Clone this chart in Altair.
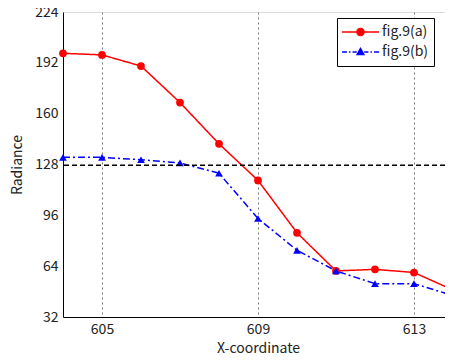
import altair as alt
import pandas as pd

x_coord = [604, 605, 606, 607, 608, 609, 610, 611, 612, 613, 614]
fig9a = [198, 197, 190, 167, 141, 118, 85, 61, 62, 60, 49]
fig9b = [132.5, 132.5, 131, 129, 122.5, 94, 74, 61, 53, 53, 45.5]
threshold = [127.5]
series = ["fig.9(a)", "fig.9(b)"]
colors = ["#ff0000", "#0000ff"]
x_ticks = [605, 609, 613]
y_ticks = [32, 64, 96, 128, 160, 192, 224]

df = pd.DataFrame({
    "x": x_coord * 2,
    "y": fig9a + fig9b,
    "series": [series[0]] * len(fig9a) + [series[1]] * len(fig9b),
})
thr = pd.DataFrame({"y": threshold})

FONT = "Noto Sans CJK JP"
TXT = "#222222"

xs = alt.Scale(domain=[604, 614], nice=False, zero=False)
ys = alt.Scale(domain=[32, 224], nice=False, zero=False)
col_scale = alt.Scale(domain=series, range=colors)

x_axis = alt.Axis(values=x_ticks, grid=True, gridDash=[2, 3], gridColor="#777777",
                  gridWidth=1, tickSize=0, labelPadding=5, domainColor="black",
                  labelFontSize=14, titleFontSize=14, labelFont=FONT, titleFont=FONT,
                  labelColor=TXT, titleColor=TXT, title="X-coordinate", titlePadding=5,
                  titleFontWeight="normal")
y_axis = alt.Axis(values=y_ticks, grid=False, tickSize=0, labelPadding=5, domainColor="black",
                  labelFontSize=14, titleFontSize=14, labelFont=FONT, titleFont=FONT,
                  labelColor=TXT, titleColor=TXT, title="Radiance", titlePadding=10,
                  titleFontWeight="normal")

base = alt.Chart(df)

lines = base.mark_line(strokeWidth=1.5).encode(
    x=alt.X("x:Q", scale=xs, axis=x_axis),
    y=alt.Y("y:Q", scale=ys, axis=y_axis),
    color=alt.Color("series:N", scale=col_scale, legend=None),
    strokeDash=alt.StrokeDash("series:N", scale=alt.Scale(domain=series, range=[[1, 0], [7, 3, 2, 3]]), legend=None),
)

pts_a = base.transform_filter(alt.datum.series == series[0]).mark_point(
    filled=True, size=60, opacity=1, shape="circle").encode(
    x=alt.X("x:Q", scale=xs),
    y=alt.Y("y:Q", scale=ys),
    color=alt.Color("series:N", scale=col_scale, legend=None),
)
pts_b = base.transform_filter(alt.datum.series == series[1]).mark_point(
    filled=True, size=60, opacity=1, shape="triangle-up").encode(
    x=alt.X("x:Q", scale=xs),
    y=alt.Y("y:Q", scale=ys),
    color=alt.Color("series:N", scale=col_scale, legend=None),
)


def seg(a, b, h=0.042):
    return f"M {a} {-h} L {b} {-h} L {b} {h} L {a} {h} Z "


red_sym = (seg(-1, -0.21) + seg(0.21, 1)
           + "M 0.23 0 A 0.23 0.23 0 1 1 -0.23 0 A 0.23 0.23 0 1 1 0.23 0 Z")
blue_sym = (seg(-1, -0.73) + seg(-0.62, -0.54) + seg(-0.43, -0.2)
            + seg(0.2, 0.43) + seg(0.54, 0.62) + seg(0.73, 1)
            + "M 0 -0.27 L 0.25 0.17 L -0.25 0.17 Z")

leg = alt.Legend(
    title=None, orient="none", legendX=274, legendY=6,
    labelFontSize=14, labelFont=FONT, labelColor=TXT,
    labelOffset=3, padding=5, strokeColor="black", fillColor="white",
    cornerRadius=0, symbolStrokeWidth=0, symbolSize=1369, clipHeight=18, rowPadding=2,
    symbolOpacity=1,
)

legend_layer = alt.Chart(df).mark_point(strokeWidth=0, size=1369, filled=True).encode(
    shape=alt.Shape("series:N", scale=alt.Scale(domain=series, range=[red_sym, blue_sym]), legend=leg),
    color=alt.Color("series:N", scale=col_scale, legend=leg),
    opacity=alt.value(0),
)

rule = alt.Chart(thr).mark_rule(color="black", strokeDash=[5, 3], strokeWidth=1.5).encode(
    y=alt.Y("y:Q", scale=ys)
)

chart = alt.layer(lines, pts_a, pts_b, rule, legend_layer).properties(
    width=390, height=305,
    autosize=alt.AutoSizeParams(type="none"),
    padding={"left": 55, "top": 4, "right": -8, "bottom": 38},
).resolve_legend(color="independent", shape="independent").configure_view(
    stroke="black", strokeWidth=1).configure(background="white")

chart.save("out.html", embed_options={"renderer": "svg", "actions": False})
